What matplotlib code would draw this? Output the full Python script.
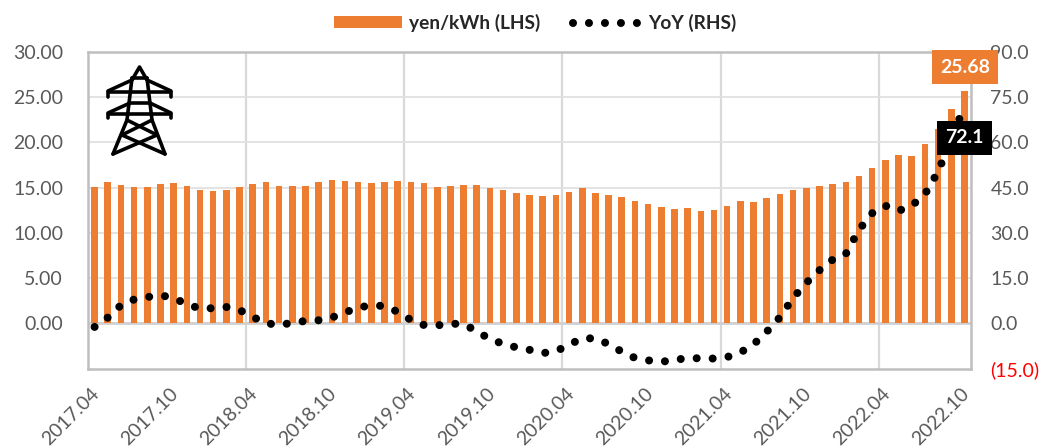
import matplotlib
matplotlib.use('Agg')
import matplotlib.pyplot as plt
from matplotlib.transforms import ScaledTranslation

plt.rcParams['font.family'] = ['Lato', 'DejaVu Sans']

tick_labels = ['2017.04', '2017.10', '2018.04', '2018.10', '2019.04', '2019.10',
               '2020.04', '2020.10', '2021.04', '2021.10', '2022.04', '2022.10']

# yen/kWh, one value per month from 2017.04
price = [15.07, 15.63, 15.33, 15.1, 15.07, 15.44, 15.55, 15.18, 14.78, 14.63, 14.7, 15.1,
         15.4, 15.63, 15.22, 15.22, 15.22, 15.63, 15.85, 15.74, 15.66, 15.5, 15.63, 15.74,
         15.63, 15.55, 15.07, 15.22, 15.33, 15.3, 14.93, 14.74, 14.4, 14.19, 14.08, 14.22,
         14.52, 14.96, 14.37, 14.22, 13.93, 13.52, 13.15, 12.86, 12.64, 12.7, 12.38, 12.56,
         12.93, 13.56, 13.45, 13.89, 14.3, 14.78, 14.93, 15.22, 15.4, 15.63, 16.33, 17.18,
         18.06, 18.65, 18.54, 19.85, 21.45, 23.75, 25.68]

# YoY %, same months
yoy = [-1.2, 1.9, 6.0, 7.9, 8.7, 9.3, 8.4, 6.3, 4.9, 5.0, 5.4, 4.4,
       2.1, 0.0, -0.5, 0.1, 0.8, 1.0, 1.9, 3.6, 5.2, 6.0, 5.7, 3.8,
       1.1, -0.6, -0.7, -0.1, -0.3, -2.6, -5.3, -6.8, -8.0, -8.8, -9.9, -9.3,
       -7.1, -5.0, -5.0, -6.9, -9.4, -11.5, -12.3, -12.8, -12.1, -11.6, -11.6, -11.7,
       -11.2, -9.7, -7.0, -2.8, 2.0, 8.4, 13.4, 17.6, 21.1, 23.0, 31.0, 36.5,
       39.0, 37.3, 39.0, 42.8, 50.3, 61.0, 72.1]

left_ticks = [0, 5, 10, 15, 20, 25, 30]
right_ticks = [-15, 0, 15, 30, 45, 60, 75, 90]

W, H = 1056, 448
ORANGE = '#ED7D31'
TXT = '#595959'

x = list(range(len(yoy)))
fig = plt.figure(figsize=(W/100, H/100), dpi=100)
ax = fig.add_axes([88/W, 1-368.5/H, 883/W, 316.5/H])

ax.bar(x, price, width=0.5, color=ORANGE, zorder=3, label='yen/kWh (LHS)')
ax.set_xlim(-0.5, 66.5)
ax.set_ylim(-5, 30)
ax.set_yticks(left_ticks)
ax.set_yticklabels(['%.2f' % v for v in left_ticks], fontsize=14, color=TXT)
ax.set_xticks(range(0, 67, 6))
ax.set_xticklabels(tick_labels, fontsize=14, color=TXT, rotation=45, ha='right',
                   rotation_mode='anchor')
ax.set_xticks([i - 0.5 for i in range(12, 67, 12)], minor=True)
ax.tick_params(which='both', length=0)
ax.tick_params(axis='y', pad=18)
ax.tick_params(axis='x', pad=12)
ax.grid(axis='y', color='#E0E0E0', lw=1.3, zorder=0)
ax.grid(axis='x', which='minor', color='#D9D9D9', lw=1.6, zorder=0)
ax.grid(axis='x', which='major', visible=False)
ax.axhline(0, color='#D0D0D0', lw=2, zorder=2)
ax.set_axisbelow(True)
for s in ax.spines.values():
    s.set_color('#BFBFBF')
    s.set_linewidth(1.8)
shift = ScaledTranslation(-4/100, 0, fig.dpi_scale_trans)
for lab in ax.get_xticklabels():
    lab.set_transform(lab.get_transform() + shift)

ax2 = ax.twinx()
ax2.plot(x, yoy, color='black', lw=5.8, linestyle=(0, (0.001, 1.982)),
         dash_capstyle='round', zorder=5, label='YoY (RHS)')
ax2.set_ylim(-15, 90)
ax2.set_yticks(right_ticks)
ax2.set_yticklabels(['(15.0)' if v < 0 else '%.1f' % v for v in right_ticks],
                    fontsize=14, color=TXT)
ax2.get_yticklabels()[0].set_color('#FF0000')
ax2.tick_params(length=0, pad=14)
for s in ax2.spines.values():
    s.set_visible(False)

# data labels on the last month
ax2.annotate('%.2f' % price[-1], xy=(x[-1], price[-1]*3), xytext=(0.5, 24),
             textcoords='offset pixels', ha='center', va='center', color='white',
             fontsize=14, fontweight='bold', zorder=8,
             bbox=dict(boxstyle='square,pad=0.42', fc=ORANGE, ec='none'))
ax2.annotate('%.1f' % yoy[-1], xy=(x[-1], yoy[-1]), xytext=(0, -32),
             textcoords='offset pixels', ha='center', va='center', color='white',
             fontsize=14, fontweight='bold', zorder=8,
             bbox=dict(boxstyle='square,pad=0.42', fc='black', ec='none'))

h1, l1 = ax.get_legend_handles_labels()
h2, l2 = ax2.get_legend_handles_labels()
fig.legend(h1 + h2, l1 + l2, ncol=2, frameon=False, loc='center',
           bbox_to_anchor=(535.5/W, 1-23/H), handlelength=3.55, handleheight=0.62,
           handletextpad=0.38, columnspacing=1.7,
           prop={'size': 13.8, 'weight': 'bold'}, labelcolor='#262626')

# pylon icon, drawn in pixel coords on a top layer
ic = fig.add_axes([0, 0, 1, 1], zorder=20)
ic.set_xlim(0, W)
ic.set_ylim(H, 0)
ic.axis('off')
ic.patch.set_alpha(0)
pylon = [
    [(132, 80), (139.5, 67), (147, 80)],
    [(132, 78), (147, 78)],
    [(132, 78), (127, 120), (113, 154)],
    [(147, 78), (152, 120), (165, 154)],
    [(108, 97), (108, 92), (171, 92), (171, 97)],
    [(108, 91), (132, 80)],
    [(171, 91), (147, 80)],
    [(108, 118), (108, 114), (171, 114), (171, 118)],
    [(108, 113), (130, 103)],
    [(171, 113), (150, 103)],
    [(130, 103), (150, 103)],
    [(127, 120), (157, 135)],
    [(152, 120), (122, 135)],
    [(122, 135), (165, 154)],
    [(157, 135), (113, 154)],
]
for seg in pylon:
    ic.plot([p[0] for p in seg], [p[1] for p in seg], color='black', lw=2.6,
            solid_capstyle='round', solid_joinstyle='round')

fig.savefig('out.png', dpi=100)
